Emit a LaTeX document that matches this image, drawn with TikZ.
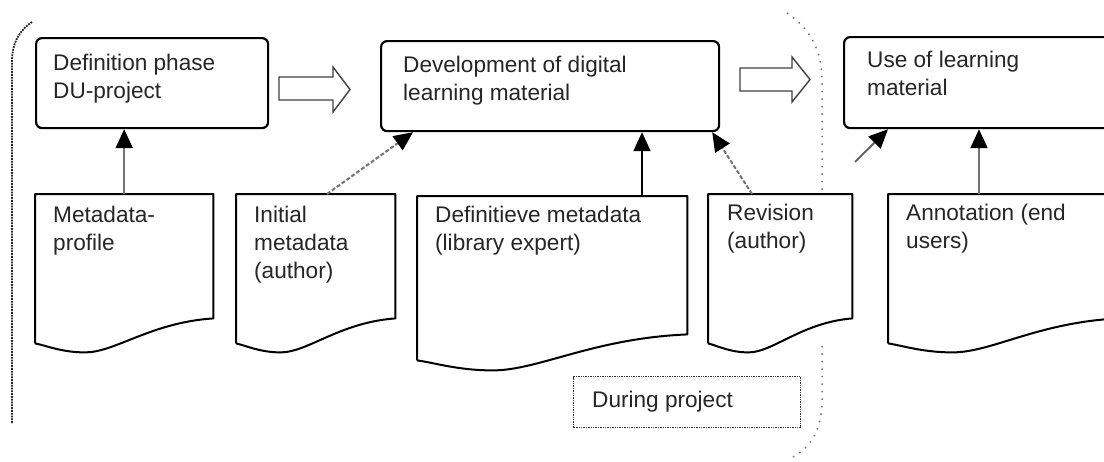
\documentclass[tikz,border=0pt]{standalone}
\usepackage{fontspec}
\setmainfont{Liberation Sans}
\usetikzlibrary{arrows.meta,calc}
\newcommand\diafont{\fontsize{22.6pt}{28pt}\selectfont}
\newcommand\wavedoc[3]{%
  \draw[docline] (#1.south west) -- (#1.north west) -- (#1.north east) -- ([yshift=#2]#1.south east)
  .. controls ($(#1.south east)!0.35!(#1.south west)+(0,#2-4)$) and ($(#1.south east)!0.55!(#1.south west)+(0,-#3)$) .. ($(#1.south west)!0.28!(#1.south east)+(0,-#3)$)
  .. controls ($(#1.south west)!0.15!(#1.south east)+(0,-#3)$) and ($(#1.south west)!0.06!(#1.south east)+(0,-2)$) .. (#1.south west);}
\begin{document}
\begin{tikzpicture}[x=1pt,y=1pt,
  box/.style={draw=black, line width=2.2pt, rounded corners=6pt, anchor=north west, inner sep=0pt, fill=white},
  doc/.style={draw=none, fill=white, anchor=north west, inner sep=0pt},
  docline/.style={draw=black, line width=2pt, line join=round},
  lbl/.style={inner sep=0pt, anchor=base west, text=black!85, font=\diafont},
  conn/.style={line width=2pt, -{Triangle[length=19pt,width=17pt,color=black]}},
  dashpat/.style={dash pattern=on 4pt off 2pt},
  hollow/.style={draw=black!75, line width=1.4pt, fill=white, line join=miter},
  bracketline/.style={draw=black!85, line width=1.8pt, densely dotted},
  braceline/.style={draw=black!55, line width=1.5pt, dash pattern=on 1.5pt off 6pt}]
\useasboundingbox (0,0) rectangle (1104,-461);
\clip (0,0) rectangle (1104,-461);
\fill[white] (0,0) rectangle (1104,-461);

% phase brackets
\draw[bracketline] (32,-22) .. controls (20,-30) and (12,-42) .. (12,-62) -- (12,-423);
\draw[braceline] (787,-13) .. controls (805,-25) and (822,-45) .. (822,-80) -- (822,-400) .. controls (822,-430) and (810,-448) .. (793,-457);

% process boxes
\node[box, minimum width=232pt, minimum height=90pt] (b1) at (35,-37) {};
\node[box, minimum width=338pt, minimum height=90pt] (b2) at (380,-40) {};
\node[box, minimum width=300pt, minimum height=91pt] (b3) at (843,-36) {};
\node[lbl] (t1) at ([shift={(18,-33)}]b1.north west) {\parbox[t]{220pt}{Definition phase\\DU-project}};
\node[lbl] (t2) at ([shift={(23,-32)}]b2.north west) {\parbox[t]{300pt}{Development of digital\\learning material}};
\node[lbl] (t3) at ([shift={(24,-31)}]b3.north west) {\parbox[t]{240pt}{Use of learning\\material}};

% hollow block arrows
\draw[hollow] (279,-77) -- (333,-77) -- (333,-67) -- (350,-89.5) -- (333,-112) -- (333,-100) -- (279,-100) -- cycle;
\draw[hollow] (740,-68) -- (792,-68) -- (792,-57) -- (810,-79.5) -- (792,-102) -- (792,-91) -- (740,-91) -- cycle;

% documents
\node[doc, minimum width=178pt, minimum height=149pt] (d1) at (35,-194) {};
\node[doc, minimum width=159pt, minimum height=149pt] (d2) at (236,-194) {};
\node[doc, minimum width=270pt, minimum height=164pt] (d3) at (417,-196) {};
\node[doc, minimum width=144pt, minimum height=149pt] (d4) at (708,-194) {};
\node[doc, minimum width=230pt, minimum height=149pt] (d5) at (888,-194) {};
\wavedoc{d1}{25}{9}
\wavedoc{d2}{25}{9}
\wavedoc{d3}{26}{10}
\wavedoc{d4}{25}{9}
\wavedoc{d5}{25}{9}
\node[lbl] (u1) at ([shift={(18,-28)}]d1.north west) {\parbox[t]{150pt}{Metadata-\\profile}};
\node[lbl] (u2) at ([shift={(18,-28)}]d2.north west) {\parbox[t]{140pt}{Initial\\metadata\\(author)}};
\node[lbl] (u3) at ([shift={(18,-26)}]d3.north west) {\parbox[t]{250pt}{Definitieve metadata\\(library expert)}};
\node[lbl] (u4) at ([shift={(19,-26)}]d4.north west) {\parbox[t]{120pt}{Revision\\(author)}};
\node[lbl] (u5) at ([shift={(18,-26)}]d5.north west) {\parbox[t]{200pt}{Annotation (end\\users)}};

% during project box
\node[draw=black!80, line width=1.4pt, densely dotted, anchor=north west, minimum width=227pt, minimum height=51pt, inner sep=0pt] (dp) at (573,-376) {};
\node[lbl] (dpt) at ([shift={(19,-31)}]dp.north west) {During project};

% connectors
\coordinate (free) at (855,-162);
\draw[conn, draw=black!55] (d1.north) -- (d1.north |- b1.south);
\draw[conn, draw=black!55, dashpat] ($(d2.north west)+(91,0)$) -- ($(b2.south west)+(33,0)$);
\draw[conn, draw=black] ($(d3.north west)+(225,0)$) -- ($(b2.south west)+(262,0)$);
\draw[conn, draw=black!55, dashpat] ($(d4.north west)+(44,0)$) -- ($(b2.south east)+(-8,0)$);
\draw[conn, draw=black!60] (free) -- ($(b3.south west)+(45,0)$);
\draw[conn, draw=black!55] ($(d5.north west)+(91,0)$) -- ($(b3.south west)+(136,0)$);
\end{tikzpicture}
\end{document}
